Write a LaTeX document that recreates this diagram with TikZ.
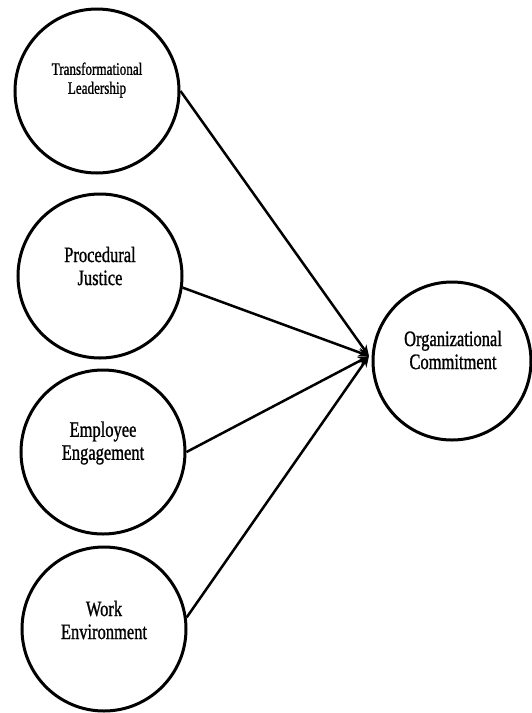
\documentclass[tikz,border=0pt]{standalone}
\usepackage{fontspec}
\setmainfont{Liberation Serif}
\newfontfamily\narrowfont[FakeStretch=0.75,FakeBold=1]{Liberation Serif}
\usetikzlibrary{arrows.meta}

\tikzset{
	construct/.style={draw,circle,line width=3pt,minimum size=164pt,inner sep=0pt},
	lbl/.style={align=center,inner sep=0pt,font=\narrowfont\fontsize{22}{23}\selectfont},
	link/.style={line width=2.5pt,-{Stealth[length=11pt,width=9pt]}}
}

\begin{document}
\begin{tikzpicture}[x=1pt,y=-1pt]
	% frame
	\useasboundingbox (0,0) rectangle (532,713);

	% constructs
	\node[construct] (TL) at (97,91) {};
	\node[construct] (PJ) at (100,276) {};
	\node[construct] (EE) at (103,452) {};
	\node[construct] (WE) at (104,629) {};
	\node[construct,minimum size=158pt] (OC) at (452,361) {};

	% labels
	\node[lbl,font=\narrowfont\fontsize{17.5}{19}\selectfont] (TLtext) at (97,80) {Transformational\\Leadership};
	\node[lbl] (PJtext) at (100,266) {Procedural\\Justice};
	\node[lbl] (EEtext) at (103,443) {Employee\\Engagement};
	\node[lbl] (WEtext) at (104,620) {Work\\Environment};
	\node[lbl] (OCtext) at (453,350) {Organizational\\Commitment};

	% meeting point
	\coordinate (tip) at (369,356);

	% arrows
	\draw[link] (TL.east) -- (tip);
	\draw[link] (PJ.-8) -- (tip);
	\draw[link] (EE.east) -- (tip);
	\draw[link] (WE.8) -- (tip);

\end{tikzpicture}
\end{document}
